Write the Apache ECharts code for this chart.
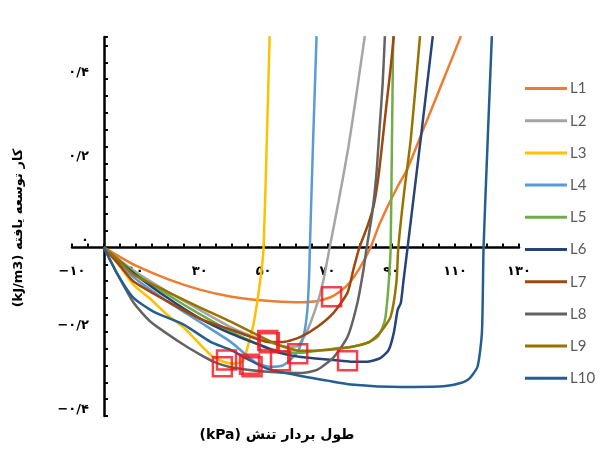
<!DOCTYPE html>
<html>
<head>
<meta charset="utf-8">
<script src="https://cdn.jsdelivr.net/npm/echarts@6/dist/echarts.min.js"></script>
<style>
  html, body { margin: 0; padding: 0; background: #ffffff; }
  #chart { width: 601px; height: 459px; }
</style>
</head>
<body>
<div id="chart"></div>
<script>
// Series names and colours
const seriesNames = ['L1', 'L2', 'L3', 'L4', 'L5', 'L6', 'L7', 'L8', 'L9', 'L10'];
const seriesColors = ['#ED7D31', '#A5A5A5', '#FFC000', '#5B9BD5', '#70AD47',
                      '#264478', '#9E480E', '#636363', '#997300', '#255E91'];

// Curves: [stress vector length (kPa), developed work (kJ/m3)]
const L1 = [[0,0],[5,-0.022],[10,-0.043],[20,-0.075],[30,-0.1],[40,-0.117],[50,-0.126],[60,-0.13],[66,-0.128],[71,-0.118],[74,-0.104],[77,-0.083],[80,-0.05],[83.5,0],[86,0.05],[89,0.1],[92,0.145],[95,0.186],[100,0.28],[105.5,0.383],[111.8,0.502]];
const L2 = [[0,0],[5,-0.03],[10,-0.058],[20,-0.105],[30,-0.148],[40,-0.19],[48,-0.215],[54,-0.23],[58,-0.236],[60.7,-0.234],[63.8,-0.195],[66.9,-0.131],[68.8,-0.076],[70.7,0],[73.5,0.11],[76.5,0.235],[79,0.36],[81.7,0.502]];
const L3 = [[0,0],[5,-0.045],[9.2,-0.088],[15,-0.125],[19.9,-0.16],[25,-0.19],[28.1,-0.214],[33.4,-0.255],[37,-0.27],[40.5,-0.276],[43.5,-0.27],[45,-0.236],[46.9,-0.18],[49.1,-0.07],[50,0],[51,0.25],[51.9,0.502]];
const L4 = [[0,0],[5,-0.038],[9.2,-0.07],[19.9,-0.128],[30.3,-0.178],[39.7,-0.224],[45,-0.258],[48,-0.275],[52,-0.283],[56,-0.28],[59,-0.262],[61,-0.243],[62.8,-0.2],[63.8,-0.14],[64.3,-0.06],[64.5,0],[65.5,0.25],[66.6,0.502]];
const L5 = [[0,0],[5,-0.032],[10,-0.062],[20,-0.112],[30,-0.158],[40,-0.2],[50,-0.235],[56,-0.248],[61.6,-0.25],[66.9,-0.245],[72,-0.24],[77.3,-0.236],[82,-0.227],[85.7,-0.212],[87.5,-0.185],[88.2,-0.164],[89.2,-0.083],[89.8,0],[90.2,0.25],[90.6,0.502]];
const L6 = [[0,0],[5,-0.033],[10,-0.065],[20,-0.12],[30,-0.168],[40,-0.205],[50,-0.235],[55,-0.25],[61.6,-0.26],[72,-0.267],[77.3,-0.271],[82.6,-0.271],[86.7,-0.262],[89.2,-0.243],[90.8,-0.202],[92,-0.148],[93,-0.131],[93.8,-0.08],[95.1,0],[99.2,0.257],[103,0.502]];
const L7 = [[0,0],[5,-0.043],[9.2,-0.08],[19.9,-0.128],[30.3,-0.17],[40.6,-0.197],[46,-0.212],[51.3,-0.224],[56.3,-0.224],[61.6,-0.212],[66.9,-0.188],[71.9,-0.155],[76.3,-0.107],[78.2,-0.05],[80,0],[82.5,0.05],[84.5,0.1],[86,0.17],[87.2,0.25],[88.5,0.34],[89.7,0.42],[90.8,0.502]];
const L8 = [[0,0],[4,-0.06],[9.2,-0.13],[14.6,-0.176],[25,-0.231],[30.3,-0.255],[34.3,-0.271],[39.7,-0.284],[51.3,-0.295],[61.6,-0.298],[66.9,-0.29],[72,-0.26],[76.3,-0.212],[79.4,-0.131],[81.3,-0.052],[82.3,0],[84,0.08],[85.3,0.17],[86.3,0.28],[87.3,0.39],[88,0.502]];
const L9 = [[0,0],[5,-0.033],[9.2,-0.064],[19.9,-0.105],[30.3,-0.143],[39.7,-0.176],[50,-0.215],[56,-0.235],[61.6,-0.245],[70,-0.243],[77.3,-0.236],[83,-0.225],[86.7,-0.2],[89.8,-0.164],[91.6,-0.083],[92.2,0],[94,0.13],[96.1,0.257],[99,0.502]];
const L10 = [[0,0],[4,-0.06],[9.2,-0.119],[15.5,-0.152],[25,-0.183],[33.4,-0.224],[39.7,-0.243],[45,-0.265],[51.3,-0.288],[61.6,-0.305],[70,-0.316],[77.3,-0.325],[93,-0.331],[105,-0.33],[109.6,-0.326],[114,-0.314],[117,-0.283],[118.4,-0.2],[118.9,0],[120.2,0.257],[121.5,0.502]];

// Marked points on the curves
const markedPoints = [[71.3,-0.117],[51.3,-0.221],[51.8,-0.226],[60.7,-0.252],[76.3,-0.269],[55.3,-0.269],[45.6,-0.277],[46.4,-0.283],[37.1,-0.283],[38.4,-0.267]];

const curves = [L1, L2, L3, L4, L5, L6, L7, L8, L9, L10];

// Axis ranges and tick labels
const xMin = -10, xMax = 130;
const yMin = -0.4, yMax = 0.5;
const xLabelValues = [-10, 10, 30, 50, 70, 90, 110, 130];
const yLabelValues = [-0.4, -0.2, 0, 0.2, 0.4];

const xTitle = '\u202B' + 'طول بردار تنش (kPa)' + '\u202C';
const yTitle = '\u202B' + 'کار توسعه یافته (kJ/m3)' + '\u202C';

const faDigits = '۰۱۲۳۴۵۶۷۸۹';
function toFa(str) {
  return String(str).replace(/[0-9]/g, d => faDigits[+d]).replace('.', '/').replace('-', '−');
}
function near(v, list) {
  return list.some(t => Math.abs(t - v) < 1e-6);
}

// Plot area
const gridBox = { left: 72, right: 82, top: 37, bottom: 43 };
const plotW = 601 - gridBox.left - gridBox.right;
const plotH = 459 - gridBox.top - gridBox.bottom;
// Both axes cross at the origin: shift them inward from the grid edges
const xAxisOffset = -plotH * (0 - yMin) / (yMax - yMin);
const yAxisOffset = -plotW * (0 - xMin) / (xMax - xMin);

const chart = echarts.init(document.getElementById('chart'), null, { renderer: 'canvas' });

const lineSeries = curves.map((data, i) => ({
  name: seriesNames[i],
  type: 'line',
  data: data,
  color: seriesColors[i],
  symbol: 'none',
  smooth: 0.2,
  lineStyle: { width: 2.5, color: seriesColors[i] },
  emphasis: { disabled: true },
  z: 2
}));

const option = {
  animation: false,
  backgroundColor: '#ffffff',
  grid: Object.assign({ outerBoundsMode: 'none' }, gridBox),
  xAxis: {
    type: 'value',
    position: 'bottom',
    offset: xAxisOffset,
    min: xMin, max: xMax, interval: 5,
    axisLine: { onZero: false, lineStyle: { color: '#000', width: 2.5 } },
    axisTick: { show: true, inside: true, length: 4, lineStyle: { color: '#000', width: 2 } },
    axisLabel: {
      margin: 18,
      color: '#000',
      fontWeight: 'bold',
      fontSize: 13,
      fontFamily: 'DejaVu Sans',
      showMinLabel: true, showMaxLabel: true,
      hideOverlap: false,
      formatter: v => near(v, xLabelValues) ? toFa(v) : ''
    },
    splitLine: { show: false }
  },
  yAxis: {
    type: 'value',
    position: 'left',
    offset: yAxisOffset,
    min: yMin, max: yMax, interval: 0.04,
    axisLine: { onZero: false, lineStyle: { color: '#000', width: 2.5 } },
    axisTick: { show: true, inside: true, length: 4, lineStyle: { color: '#000', width: 2 } },
    axisLabel: {
      margin: 15,
      color: '#000',
      fontWeight: 'bold',
      fontSize: 13,
      fontFamily: 'DejaVu Sans',
      verticalAlign: 'bottom',
      hideOverlap: false,
      formatter: v => {
        if (!near(v, yLabelValues)) return '';
        if (Math.abs(v) < 1e-9) return toFa('0');
        return toFa(v.toFixed(1));
      }
    },
    splitLine: { show: false }
  },
  legend: {
    data: seriesNames,
    orient: 'vertical',
    left: 525,
    top: 81,
    padding: 0,
    icon: 'rect',
    itemWidth: 42,
    itemHeight: 3,
    itemGap: 17.2,
    textStyle: { color: '#595959', fontSize: 15, fontFamily: 'Lato', lineHeight: 14, padding: [0, 0, 0, -2] },
    selectedMode: false
  },
  graphic: [
    {
      type: 'text',
      x: 277, y: 435,
      style: {
        text: xTitle,
        fontSize: 14, fontWeight: 'bold', fontFamily: 'DejaVu Sans',
        fill: '#000', align: 'center', verticalAlign: 'middle'
      }
    },
    {
      type: 'text',
      x: 19, y: 228,
      rotation: Math.PI / 2,
      style: {
        text: yTitle,
        fontSize: 13, fontWeight: 'bold', fontFamily: 'DejaVu Sans',
        fill: '#000', align: 'center', verticalAlign: 'middle'
      }
    }
  ],
  series: lineSeries.concat([{
    name: 'marked',
    type: 'scatter',
    data: markedPoints,
    symbol: 'rect',
    symbolSize: 19,
    itemStyle: { color: 'rgba(0,0,0,0)', borderColor: '#F0141E', borderWidth: 2.5 },
    emphasis: { disabled: true },
    z: 5
  }])
};

chart.setOption(option);
</script>
</body>
</html>
